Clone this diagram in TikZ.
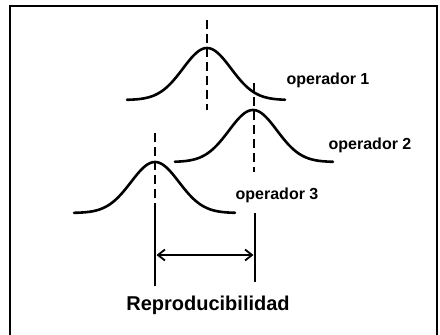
\documentclass[tikz,border=0pt]{standalone}
\usepackage{fontspec}
\setmainfont{Liberation Sans}
\usetikzlibrary{arrows.meta}
\begin{document}
\begin{tikzpicture}[x=1pt,y=-1pt,
  curve/.style={line width=2.6pt,line cap=round},
  meanline/.style={line width=1.8pt,dash pattern=on 9pt off 5pt},
  limitline/.style={line width=2.4pt},
  frameline/.style={line width=1.8pt},
  dimarrow/.style={line width=1.8pt,{Straight Barb[length=7pt,width=11pt,line width=1.8pt]}-{Straight Barb[length=7pt,width=11pt,line width=1.8pt]}},
  oplbl/.style={font=\bfseries\fontsize{16}{19}\selectfont,inner sep=0pt},
  mainlbl/.style={font=\bfseries\fontsize{20}{24}\selectfont,inner sep=0pt}]
\useasboundingbox (0,0) rectangle (440,335);
% frame
\draw[frameline] (10,345) -- (10,6) -- (437,6) -- (437,345);
% curves
\draw[curve] plot[domain=-80:78,samples=90,smooth] ({207+\x},{100-52*exp(-(\x*\x)/1152)});
\draw[curve] plot[domain=-78:80,samples=90,smooth] ({253+\x},{162-52*exp(-(\x*\x)/1152)});
\draw[curve] plot[domain=-81:80,samples=90,smooth] ({155+\x},{213-51*exp(-(\x*\x)/1152)});
% mean lines
\coordinate (m1t) at (207,20);
\coordinate (m1b) at (207,110);
\coordinate (m2t) at (254,83);
\coordinate (m2b) at (254,172);
\coordinate (m3t) at (155,133);
\coordinate (m3b) at (155,212);
\draw[meanline] (m1t) -- (m1b);
\draw[meanline] (m2t) -- (m2b);
\draw[meanline] (m3t) -- (m3b);
% limit lines
\coordinate (l3t) at (155,212);
\coordinate (l3b) at (155,286);
\coordinate (l2t) at (255,213);
\coordinate (l2b) at (255,282);
\draw[limitline] (l3t) -- (l3b);
\draw[limitline] (l2t) -- (l2b);
% arrow
\coordinate (a1) at (156.5,255);
\coordinate (a2) at (253.5,255);
\draw[dimarrow] (a1) -- (a2);
% labels
\node[oplbl] (op1) at (328,80) {operador 1};
\node[oplbl] (op2) at (370,145) {operador 2};
\node[oplbl] (op3) at (277,195) {operador 3};
\node[mainlbl] (rep) at (208,305) {Reproducibilidad};
\end{tikzpicture}
\end{document}
